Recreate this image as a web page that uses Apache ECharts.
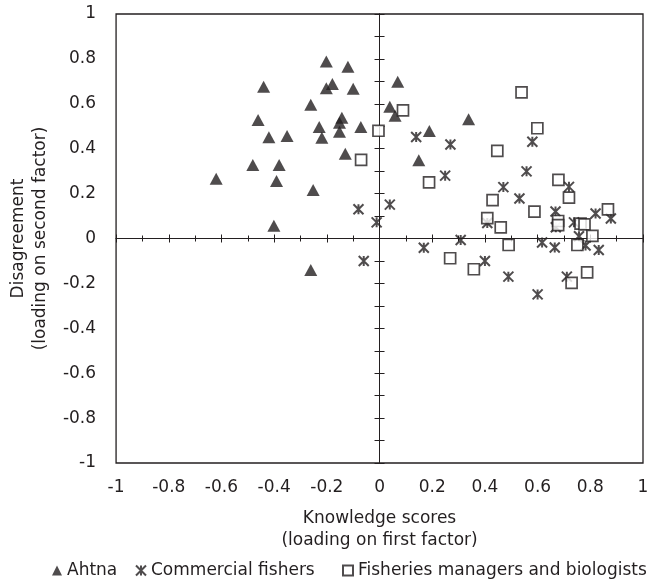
<!DOCTYPE html>
<html>
<head>
<meta charset="utf-8">
<script src="https://cdn.jsdelivr.net/npm/echarts@6/dist/echarts.min.js"></script>
<style>
  html, body { margin: 0; padding: 0; background: #fff; }
  #main { width: 652px; height: 584px; }
</style>
</head>
<body>
<div id="main"></div>
<script>
// factor loadings, [first factor, second factor]
const ahtna = [
  [-0.202, 0.788], [-0.120, 0.765], [-0.440, 0.676], [-0.179, 0.688], [-0.202, 0.669],
  [-0.100, 0.667], [-0.261, 0.596], [-0.461, 0.528], [-0.143, 0.538], [-0.152, 0.516],
  [-0.229, 0.497], [-0.071, 0.497], [-0.152, 0.476], [-0.420, 0.451], [-0.351, 0.457],
  [-0.219, 0.449], [-0.130, 0.378], [-0.481, 0.327], [-0.381, 0.327], [-0.620, 0.266],
  [-0.391, 0.256], [-0.252, 0.216], [-0.401, 0.057], [-0.261, -0.140], [0.069, 0.698],
  [0.039, 0.587], [0.059, 0.547], [0.189, 0.479], [0.338, 0.531], [0.149, 0.348]
];
const commercialFishers = [
  [-0.080, 0.130], [-0.011, 0.072], [-0.060, -0.100], [0.039, 0.151], [0.139, 0.452],
  [0.269, 0.419], [0.249, 0.280], [0.580, 0.431], [0.558, 0.299], [0.470, 0.229],
  [0.531, 0.178], [0.719, 0.230], [0.668, 0.120], [0.820, 0.111], [0.878, 0.089],
  [0.409, 0.069], [0.738, 0.072], [0.669, 0.050], [0.757, 0.010], [0.168, -0.041],
  [0.308, -0.007], [0.400, -0.100], [0.489, -0.170], [0.600, -0.249], [0.617, -0.018],
  [0.665, -0.040], [0.782, -0.031], [0.832, -0.051], [0.711, -0.170]
];
const managersBiologists = [
  [-0.070, 0.350], [-0.004, 0.480], [0.089, 0.571], [0.539, 0.651], [0.599, 0.491],
  [0.447, 0.390], [0.188, 0.250], [0.679, 0.261], [0.719, 0.182], [0.429, 0.171],
  [0.588, 0.120], [0.867, 0.130], [0.409, 0.091], [0.460, 0.050], [0.678, 0.078],
  [0.678, 0.060], [0.763, 0.066], [0.778, 0.063], [0.808, 0.012], [0.490, -0.029],
  [0.751, -0.029], [0.268, -0.088], [0.358, -0.137], [0.788, -0.151], [0.729, -0.198]
];
const groupNames = ["Ahtna", "Commercial fishers", "Fisheries managers and biologists"];

const ink = "#231f20";
const font = "'DejaVu Sans', sans-serif";
const asterisk = "path://M0,0L10,10M10,0L0,10M5,0L5,10";

// axis drawn through the origin, with ticks crossing the line
function zeroX(inside) {
  return {
    type: "value", min: -1, max: 1, interval: 0.2,
    axisLine: { onZero: true, onZeroAxisIndex: 0, lineStyle: { color: ink, width: 1 } },
    axisTick: { show: true, inside: inside, length: 4, lineStyle: { color: ink } },
    minorTick: { show: true, splitNumber: 2, length: 3, lineStyle: { color: ink } },
    axisLabel: { show: false }, splitLine: { show: false }
  };
}
function zeroY(inside) {
  return {
    type: "value", min: -1, max: 1, interval: 0.2,
    axisLine: { onZero: true, onZeroAxisIndex: 0, lineStyle: { color: ink, width: 1 } },
    axisTick: { show: true, inside: inside, length: 5, lineStyle: { color: ink } },
    minorTick: { show: true, splitNumber: 2, length: 5, lineStyle: { color: ink } },
    axisLabel: { show: false }, splitLine: { show: false }
  };
}

// one legend per group so each sits where the reference puts it
function legendAt(left, name, icon) {
  return {
    left: left, top: 562, itemWidth: 10, itemHeight: 10, padding: 0,
    textStyle: { fontSize: 17, color: ink, fontFamily: font },
    data: [{ name: name, icon: icon }]
  };
}

const chart = echarts.init(document.getElementById("main"));
chart.setOption({
  backgroundColor: "#fff",
  animation: false,
  textStyle: { fontFamily: font, color: ink },
  grid: {
    left: 111, right: 9, top: 14, bottom: 121,
    show: true, borderColor: ink, borderWidth: 1.3, backgroundColor: "transparent"
  },
  xAxis: [
    {
      type: "value", min: -1, max: 1, interval: 0.2, position: "bottom",
      name: "Knowledge scores\n(loading on first factor)",
      nameLocation: "middle", nameGap: 45,
      nameTextStyle: { fontSize: 17, lineHeight: 22, color: ink, fontFamily: font },
      axisLine: { show: false, onZero: false },
      axisTick: { show: false },
      axisLabel: { fontSize: 17, color: ink, margin: 16, fontFamily: font },
      splitLine: { show: false }
    },
    zeroX(false),
    zeroX(true)
  ],
  yAxis: [
    {
      type: "value", min: -1, max: 1, interval: 0.2, position: "left",
      name: "Disagreement\n(loading on second factor)",
      nameLocation: "middle", nameGap: 60, nameRotate: 90,
      nameTextStyle: { fontSize: 17, lineHeight: 22, color: ink, fontFamily: font },
      axisLine: { show: false, onZero: false },
      axisTick: { show: false },
      axisLabel: { fontSize: 17, color: ink, margin: 20, fontFamily: font },
      splitLine: { show: false }
    },
    zeroY(false),
    zeroY(true)
  ],
  legend: [
    legendAt(52, groupNames[0], "triangle"),
    legendAt(135, groupNames[1], asterisk),
    legendAt(342, groupNames[2], "rect")
  ],
  series: [
    {
      name: groupNames[0], type: "scatter", data: ahtna,
      symbol: "triangle", symbolSize: [13, 12],
      itemStyle: { color: ink }
    },
    {
      name: groupNames[1], type: "scatter", data: commercialFishers,
      symbol: asterisk, symbolSize: 10,
      itemStyle: { color: ink, borderColor: ink, borderWidth: 2 }
    },
    {
      name: groupNames[2], type: "scatter", data: managersBiologists,
      symbol: "rect", symbolSize: 11,
      itemStyle: { color: "#fff", borderColor: ink, borderWidth: 1.7 }
    }
  ]
});
</script>
</body>
</html>
